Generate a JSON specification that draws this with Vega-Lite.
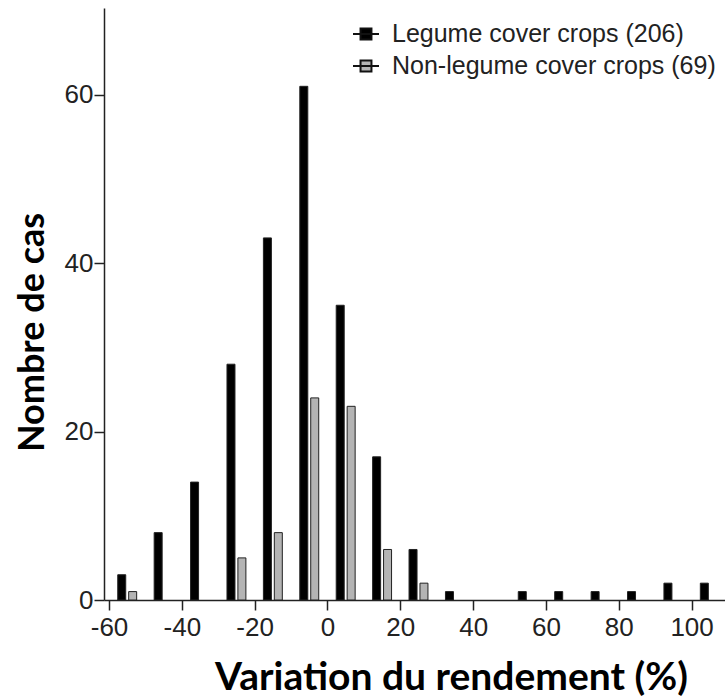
{
  "$schema": "https://vega.github.io/schema/vega-lite/v6.json",
  "autosize": {"type": "none"},
  "padding": {"left": 104, "top": 8, "right": 0, "bottom": 99},
  "width": 621,
  "height": 592,
  "background": "white",
  "config": {
    "view": {"stroke": null},
    "axis": {
      "labelFont": "Liberation Sans",
      "labelFontSize": 26,
      "labelColor": "#222",
      "domainColor": "#222",
      "domainWidth": 1.5,
      "tickColor": "#222",
      "tickWidth": 1.5,
      "grid": false,
      "titleFont": "Lato",
      "titleFontWeight": "bold",
      "titleColor": "black"
    }
  },
  "datasets": {
    "bars": [
      {"variation": -56.5, "cas": 3, "groupe": "Legume cover crops (206)"},
      {"variation": -46.5, "cas": 8, "groupe": "Legume cover crops (206)"},
      {"variation": -36.5, "cas": 14, "groupe": "Legume cover crops (206)"},
      {"variation": -26.5, "cas": 28, "groupe": "Legume cover crops (206)"},
      {"variation": -16.5, "cas": 43, "groupe": "Legume cover crops (206)"},
      {"variation": -6.5, "cas": 61, "groupe": "Legume cover crops (206)"},
      {"variation": 3.5, "cas": 35, "groupe": "Legume cover crops (206)"},
      {"variation": 13.5, "cas": 17, "groupe": "Legume cover crops (206)"},
      {"variation": 23.5, "cas": 6, "groupe": "Legume cover crops (206)"},
      {"variation": 33.5, "cas": 1, "groupe": "Legume cover crops (206)"},
      {"variation": 53.5, "cas": 1, "groupe": "Legume cover crops (206)"},
      {"variation": 63.5, "cas": 1, "groupe": "Legume cover crops (206)"},
      {"variation": 73.5, "cas": 1, "groupe": "Legume cover crops (206)"},
      {"variation": 83.5, "cas": 1, "groupe": "Legume cover crops (206)"},
      {"variation": 93.5, "cas": 2, "groupe": "Legume cover crops (206)"},
      {"variation": 103.5, "cas": 2, "groupe": "Legume cover crops (206)"},
      {"variation": -53.5, "cas": 1, "groupe": "Non-legume cover crops (69)"},
      {"variation": -23.5, "cas": 5, "groupe": "Non-legume cover crops (69)"},
      {"variation": -13.5, "cas": 8, "groupe": "Non-legume cover crops (69)"},
      {"variation": -3.5, "cas": 24, "groupe": "Non-legume cover crops (69)"},
      {"variation": 6.5, "cas": 23, "groupe": "Non-legume cover crops (69)"},
      {"variation": 16.5, "cas": 6, "groupe": "Non-legume cover crops (69)"},
      {"variation": 26.5, "cas": 2, "groupe": "Non-legume cover crops (69)"}
    ]
  },
  "layer": [
    {
      "mark": {"type": "rule", "strokeDash": [24, 8], "strokeWidth": 1.5, "color": "#222"},
      "encoding": {"x": {"datum": 0, "type": "quantitative"}}
    },
    {
      "mark": {"type": "rule", "strokeWidth": 2, "color": "#222"},
      "encoding": {"y": {"datum": 70.3, "type": "quantitative"}}
    },
    {
      "data": {"name": "bars"},
      "mark": {"type": "bar", "width": 8, "stroke": "#222", "strokeWidth": 1},
      "encoding": {
        "x": {
          "field": "variation",
          "type": "quantitative",
          "scale": {"domain": [-60, 107.8], "nice": false, "zero": false},
          "axis": {
            "values": [-60, -40, -20, 0, 20, 40, 60, 80, 100],
            "labelExpr": "'' + datum.value",
            "tickSize": 10,
            "labelPadding": 4,
            "title": "Variation du rendement (%)",
            "titleFontSize": 39,
            "titleX": 347,
            "titleY": 89,
            "titleAlign": "center",
            "titleBaseline": "alphabetic"
          }
        },
        "y": {
          "field": "cas",
          "type": "quantitative",
          "scale": {"domain": [0, 70.3], "nice": false},
          "axis": {
            "values": [0, 20, 40, 60],
            "tickSize": 10,
            "labelPadding": 1,
            "title": "Nombre de cas",
            "titleFontSize": 36,
            "titleAngle": -90,
            "titleX": -72,
            "titleY": 324,
            "titleAlign": "center",
            "titleBaseline": "middle"
          }
        },
        "fill": {
          "field": "groupe",
          "type": "nominal",
          "scale": {
            "domain": ["Legume cover crops (206)", "Non-legume cover crops (69)"],
            "range": ["#000000", "#b4b4b4"]
          },
          "legend": {
            "title": null,
            "orient": "none",
            "legendX": 248,
            "legendY": 12,
            "symbolType": "M-1,0H1M-0.42,-0.42H0.42V0.42H-0.42Z",
            "symbolSize": 676,
            "symbolStrokeColor": "#111",
            "symbolStrokeWidth": 2,
            "symbolOpacity": 1,
            "labelFont": "Liberation Sans",
            "labelFontSize": 25,
            "labelColor": "#222",
            "labelLimit": 500,
            "labelOffset": 12,
            "rowPadding": 5
          }
        }
      }
    }
  ]
}
